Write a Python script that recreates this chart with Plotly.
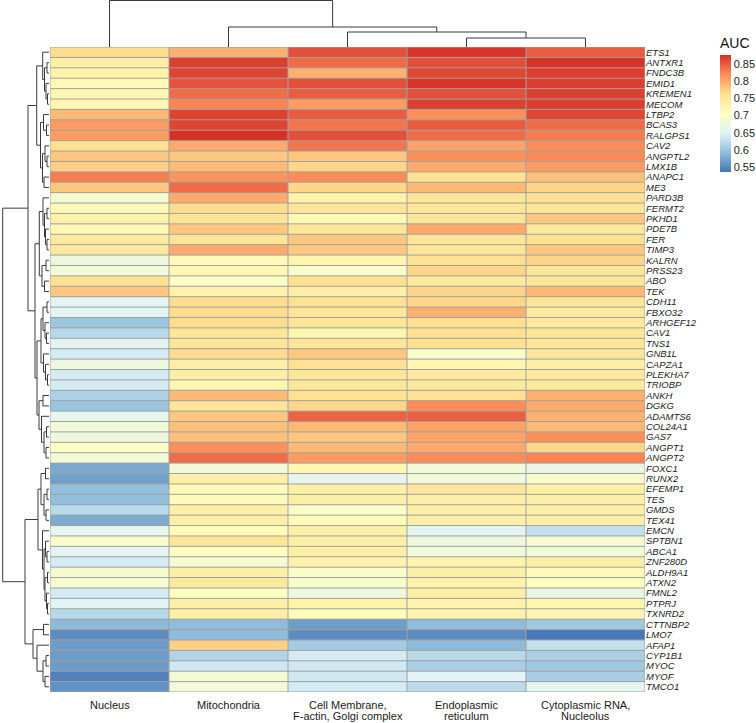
import plotly.graph_objects as go

# ---------------- data ----------------
genes = ["ETS1", "ANTXR1", "FNDC3B", "EMID1", "KREMEN1", "MECOM", "LTBP2", "BCAS3", "RALGPS1", "CAV2",
         "ANGPTL2", "LMX1B", "ANAPC1", "ME3", "PARD3B", "FERMT2", "PKHD1", "PDE7B", "FER", "TIMP3",
         "KALRN", "PRSS23", "ABO", "TEK", "CDH11", "FBXO32", "ARHGEF12", "CAV1", "TNS1", "GNB1L",
         "CAPZA1", "PLEKHA7", "TRIOBP", "ANKH", "DGKG", "ADAMTS6", "COL24A1", "GAS7", "ANGPT1", "ANGPT2",
         "FOXC1", "RUNX2", "EFEMP1", "TES", "GMDS", "TEX41", "EMCN", "SPTBN1", "ABCA1", "ZNF280D",
         "ALDH9A1", "ATXN2", "FMNL2", "PTPRJ", "TXNRD2", "CTTNBP2", "LMO7", "AFAP1", "CYP1B1", "MYOC",
         "MYOF", "TMCO1"]

columns = ["Nucleus", "Mitochondria", "Cell Membrane,\nF-actin, Golgi complex",
           "Endoplasmic\nreticulum", "Cytoplasmic RNA,\nNucleolus"]

nucleus = [0.765, 0.735, 0.73, 0.715, 0.72, 0.72, 0.79, 0.81, 0.81, 0.76, 0.78, 0.775, 0.83, 0.78,
           0.69, 0.715, 0.73, 0.72, 0.745, 0.745, 0.675, 0.68, 0.76, 0.78,
           0.655, 0.655, 0.60, 0.62, 0.655, 0.64, 0.675, 0.64, 0.64,
           0.612, 0.598, 0.662, 0.68, 0.675, 0.70, 0.68,
           0.575, 0.568, 0.593, 0.593, 0.62, 0.577,
           0.66, 0.695, 0.655, 0.64, 0.69, 0.69, 0.64, 0.652, 0.62,
           0.588, 0.553, 0.565, 0.565, 0.565, 0.545, 0.556]
mitochondria = [0.795, 0.868, 0.865, 0.855, 0.84, 0.825, 0.866, 0.865, 0.877, 0.80, 0.78, 0.79, 0.815, 0.84,
                0.80, 0.765, 0.755, 0.78, 0.755, 0.80, 0.715, 0.72, 0.70, 0.73,
                0.765, 0.765, 0.765, 0.752, 0.752, 0.765, 0.735, 0.735, 0.722,
                0.79, 0.752, 0.78, 0.785, 0.785, 0.818, 0.84,
                0.68, 0.735, 0.712, 0.712, 0.735, 0.735,
                0.712, 0.752, 0.705, 0.69, 0.735, 0.745, 0.705, 0.735, 0.735,
                0.59, 0.59, 0.775, 0.615, 0.637, 0.685, 0.68]
cell_membrane = [0.858, 0.84, 0.795, 0.858, 0.85, 0.81, 0.85, 0.835, 0.858, 0.835, 0.78, 0.77, 0.82, 0.77,
                 0.73, 0.752, 0.718, 0.752, 0.78, 0.78, 0.725, 0.695, 0.76, 0.735,
                 0.76, 0.752, 0.752, 0.722, 0.752, 0.78, 0.76, 0.752, 0.752,
                 0.76, 0.77, 0.845, 0.79, 0.78, 0.79, 0.81,
                 0.722, 0.66, 0.735, 0.735, 0.695, 0.712,
                 0.735, 0.735, 0.735, 0.73, 0.695, 0.695, 0.675, 0.73, 0.712,
                 0.565, 0.553, 0.605, 0.64, 0.637, 0.637, 0.64]
endoplasmic = [0.875, 0.858, 0.862, 0.875, 0.858, 0.868, 0.818, 0.85, 0.84, 0.805, 0.818, 0.80, 0.76, 0.79,
               0.752, 0.752, 0.752, 0.80, 0.752, 0.752, 0.76, 0.77, 0.745, 0.77,
               0.77, 0.795, 0.76, 0.762, 0.762, 0.695, 0.722, 0.745, 0.745,
               0.76, 0.82, 0.848, 0.805, 0.805, 0.80, 0.82,
               0.68, 0.68, 0.752, 0.735, 0.735, 0.735,
               0.655, 0.675, 0.68, 0.73, 0.735, 0.73, 0.735, 0.73, 0.73,
               0.59, 0.553, 0.59, 0.62, 0.61, 0.652, 0.622]
cytoplasmic = [0.85, 0.875, 0.868, 0.868, 0.868, 0.868, 0.862, 0.84, 0.83, 0.82, 0.822, 0.81, 0.785, 0.77,
               0.762, 0.752, 0.78, 0.748, 0.76, 0.78, 0.77, 0.752, 0.752, 0.79,
               0.752, 0.745, 0.745, 0.752, 0.752, 0.752, 0.735, 0.745, 0.745,
               0.795, 0.80, 0.795, 0.79, 0.818, 0.77, 0.825,
               0.665, 0.695, 0.735, 0.735, 0.735, 0.735,
               0.628, 0.69, 0.68, 0.735, 0.712, 0.705, 0.67, 0.722, 0.722,
               0.603, 0.537, 0.628, 0.61, 0.603, 0.61, 0.66]

colorbar_ticks = [0.55, 0.6, 0.65, 0.7, 0.75, 0.8, 0.85]
auc_min, auc_max = 0.535, 0.877


# clustering trees: (merge height, left, right); leaves are labels
def N(h, a, b):
    return (h, a, b)


row_tree = N(46.3,
    N(21,
      N(12.3,
        N(6.3, "ETS1", N(4.5, N(2, "ANTXR1", "FNDC3B"), N(3, "EMID1", N(1.5, "KREMEN1", "MECOM")))),
        N(8.5, N(5.5, "LTBP2", N(2.5, "BCAS3", "RALGPS1")),
               N(6.5, N(4, "CAV2", N(2, "ANGPTL2", "LMX1B")), N(5, "ANAPC1", "ME3")))),
      N(14,
        N(9.7,
          N(6, "PARD3B", N(4.5, N(2, "FERMT2", "PKHD1"), N(3.5, "PDE7B", N(2, "FER", "TIMP3")))),
          N(7, N(3, "KALRN", "PRSS23"), N(4.5, "ABO", "TEK"))),
        N(12,
          N(8, N(6, N(2, "CDH11", "FBXO32"), N(4, "ARHGEF12", N(2.5, "CAV1", "TNS1"))),
               N(5.5, "GNB1L", N(3.5, "CAPZA1", N(1.5, "PLEKHA7", "TRIOBP")))),
          N(10, N(6, "ANKH", "DGKG"),
                N(7.5, "ADAMTS6", N(5, N(2.5, "COL24A1", "GAS7"), N(3, "ANGPT1", "ANGPT2"))))))),
    N(24,
      N(11,
        N(8, N(3.5, "FOXC1", "RUNX2"), N(5, N(2, "EFEMP1", "TES"), N(3, "GMDS", "TEX41"))),
        N(6.5, "EMCN", N(5, N(3.5, "SPTBN1", N(2, "ABCA1", "ZNF280D")),
                            N(4, N(1.5, "ALDH9A1", "ATXN2"), N(2.5, "FMNL2", N(1.5, "PTPRJ", "TXNRD2")))))),
      N(16, N(5.5, "CTTNBP2", "LMO7"),
            N(12, "AFAP1", N(6, N(3, "CYP1B1", "MYOC"), N(4, "MYOF", "TMCO1"))))))

col_tree = N(46.5, 0, N(20, 1, N(15, 2, N(9, 3, 4))))

# ---------------- helpers ----------------
font_family = "Liberation Sans, Arial, sans-serif"


def dendro_segments(tree, pos_of):
    pos, hs = [], []

    def walk(node):
        if not isinstance(node, tuple):
            return pos_of(node), 0.0
        h, a, b = node
        pa, ha = walk(a)
        pb, hb = walk(b)
        pos.extend([pa, pa, pb, pb, None])
        hs.extend([ha, h, h, hb, None])
        return (pa + pb) / 2.0, h

    walk(tree)
    return pos, hs


gene_index = {g: i for i, g in enumerate(genes)}
z = [[nucleus[i], mitochondria[i], cell_membrane[i], endoplasmic[i], cytoplasmic[i]]
     for i in range(len(genes))]

colorscale = [[0.0, "#4575B4"], [1 / 6, "#91BFDB"], [2 / 6, "#E0F3F8"], [3 / 6, "#FFFFBF"],
              [4 / 6, "#FEE090"], [5 / 6, "#FC8D59"], [1.0, "#D73027"]]

W, H = 756, 723
hm_left, hm_right, hm_top, hm_bottom = 50, 645, 47, 692

fig = go.Figure()

fig.add_trace(go.Heatmap(
    z=z, x=list(range(len(columns))), y=list(range(len(genes))),
    colorscale=colorscale, zmin=auc_min, zmax=auc_max, hoverinfo="skip",
    colorbar=dict(
        title=dict(text="AUC", side="top", font=dict(size=14, family=font_family, color="#111")),
        x=720 / W, xanchor="left", y=1 - 34 / H, yanchor="top",
        len=138 / H, lenmode="fraction", thickness=11, outlinewidth=0,
        xpad=0, ypad=0, tickvals=colorbar_ticks, ticktext=[f"{t:g}" for t in colorbar_ticks],
        ticks="", tickfont=dict(size=11, family=font_family, color="#222"),
    ),
))

# cell borders
gx, gy = [], []
nr, nc = len(genes), len(columns)
for r in range(nr + 1):
    gx += [-0.5, nc - 0.5, None]
    gy += [r - 0.5, r - 0.5, None]
for c in range(nc + 1):
    gx += [c - 0.5, c - 0.5, None]
    gy += [-0.5, nr - 0.5, None]
fig.add_trace(go.Scatter(x=gx, y=gy, mode="lines", line=dict(color="#a0a0a0", width=1),
                         hoverinfo="skip", showlegend=False))

# row dendrogram (left)
rp, rh = dendro_segments(row_tree, lambda g: gene_index[g])
fig.add_trace(go.Scatter(x=rh, y=rp, xaxis="x2", yaxis="y", mode="lines",
                         line=dict(color="#3a3a3a", width=1), hoverinfo="skip", showlegend=False))

# column dendrogram (top)
cp, ch = dendro_segments(col_tree, lambda c: c)
fig.add_trace(go.Scatter(x=cp, y=ch, xaxis="x", yaxis="y3", mode="lines",
                         line=dict(color="#3a3a3a", width=1), hoverinfo="skip", showlegend=False))

# column labels
annotations = []
for i, lab in enumerate(columns):
    for k, line in enumerate(lab.split("\n")):
        annotations.append(dict(
            x=i, xref="x", y=1 - (705 + 11 * k) / H, yref="paper", text=line, showarrow=False,
            xanchor="center", yanchor="middle",
            font=dict(size=11, family=font_family, color="#1a1a1a")))

fig.update_layout(
    width=W, height=H, margin=dict(l=0, r=0, t=0, b=0, autoexpand=False),
    paper_bgcolor="white", plot_bgcolor="white", showlegend=False,
    xaxis=dict(domain=[hm_left / W, hm_right / W], range=[-0.5, nc - 0.5], showticklabels=False,
               showgrid=False, zeroline=False, ticks="", anchor="y", fixedrange=True),
    yaxis=dict(domain=[1 - hm_bottom / H, 1 - hm_top / H], range=[nr - 0.5, -0.5], side="right",
               tickvals=list(range(nr)), ticktext=[f"<i>{g}</i>" for g in genes],
               tickfont=dict(size=9.5, family=font_family, color="#1a1a1a"),
               showgrid=False, zeroline=False, ticks="", anchor="x", fixedrange=True,
               automargin=False),
    xaxis2=dict(domain=[0, hm_left / W], range=[49, -1], visible=False, anchor="y"),
    yaxis3=dict(domain=[1 - hm_top / H, 1], range=[0, 47], visible=False, anchor="x"),
    annotations=annotations,
)

fig.write_html("out.html", config={"displayModeBar": False},
               post_script="document.body.style.margin='0px';document.body.style.overflow='hidden';")
